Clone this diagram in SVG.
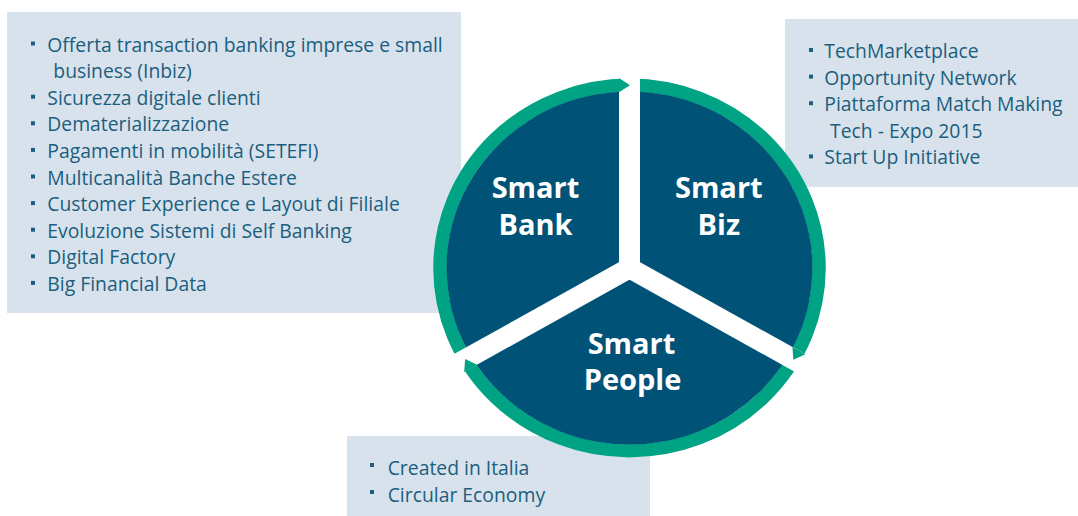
<svg xmlns="http://www.w3.org/2000/svg" width="1078" height="516" viewBox="0 0 1078 516">
<style>
.box{fill:#d8e2ec}
.t{font-family:"Open Sans","Liberation Sans",sans-serif;font-size:19.35px;fill:#1b5e7e}
.b{fill:#1b5e7e}
.lbl{font-family:"Open Sans","Liberation Sans",sans-serif;font-size:29px;font-weight:bold;fill:#ffffff;text-anchor:middle}
.ring{fill:none;stroke:#00a383;stroke-width:13.5}
.bar{stroke:#ffffff;stroke-width:21}
.tip{fill:#00a383}
</style>
<rect width="1078" height="516" fill="#ffffff"/>
<g id="box-bank">
<rect class="box" x="7" y="12" width="454" height="301"/>
<rect class="b" x="31" y="41.5" width="4" height="4"/>
<rect class="b" x="31" y="94.7" width="4" height="4"/>
<rect class="b" x="31" y="121.3" width="4" height="4"/>
<rect class="b" x="31" y="147.9" width="4" height="4"/>
<rect class="b" x="31" y="174.5" width="4" height="4"/>
<rect class="b" x="31" y="201.1" width="4" height="4"/>
<rect class="b" x="31" y="227.7" width="4" height="4"/>
<rect class="b" x="31" y="254.3" width="4" height="4"/>
<rect class="b" x="31" y="280.9" width="4" height="4"/>
<text class="t" x="47.3" y="51.5">Offerta transaction banking imprese e small</text>
<text class="t" x="53.3" y="78.1">business (Inbiz)</text>
<text class="t" x="47.3" y="104.7">Sicurezza digitale clienti</text>
<text class="t" x="47.3" y="131.3">Dematerializzazione</text>
<text class="t" x="47.3" y="157.9">Pagamenti in mobilità (SETEFI)</text>
<text class="t" x="47.3" y="184.5">Multicanalità Banche Estere</text>
<text class="t" x="47.3" y="211.1">Customer Experience e Layout di Filiale</text>
<text class="t" x="47.3" y="237.7">Evoluzione Sistemi di Self Banking</text>
<text class="t" x="47.3" y="264.3">Digital Factory</text>
<text class="t" x="47.3" y="290.9">Big Financial Data</text>
</g>
<g id="box-biz">
<rect class="box" x="785" y="19" width="293" height="168"/>
<rect class="b" x="809" y="48" width="4" height="4"/>
<rect class="b" x="809" y="74.6" width="4" height="4"/>
<rect class="b" x="809" y="101.2" width="4" height="4"/>
<rect class="b" x="809" y="154.4" width="4" height="4"/>
<text class="t" x="824.3" y="58">TechMarketplace</text>
<text class="t" x="824.3" y="84.6">Opportunity Network</text>
<text class="t" x="824.3" y="111.2">Piattaforma Match Making</text>
<text class="t" x="830" y="137.8">Tech - Expo 2015</text>
<text class="t" x="824.3" y="164.4">Start Up Initiative</text>
</g>
<g id="box-people">
<rect class="box" x="347" y="436" width="303" height="80"/>
<rect class="b" x="370" y="463" width="4" height="4"/>
<rect class="b" x="370" y="490" width="4" height="4"/>
<text class="t" x="387.7" y="474.5">Created in Italia</text>
<text class="t" x="387.7" y="501.5">Circular Economy</text>
</g>
<g id="wheel" transform="translate(629.5,268) scale(1,0.965)">
<circle class="ring" cx="0" cy="0" r="189.5"/>
<circle cx="0" cy="0" r="183" fill="#005377"/>
<g id="connectors">
<line class="bar" x1="0" y1="0" x2="0" y2="-206"/>
<line class="bar" x1="0" y1="0" x2="0" y2="-206" transform="rotate(120)"/>
<line class="bar" x1="0" y1="0" x2="0" y2="-206" transform="rotate(240)"/>
</g>
<polygon class="tip" points="-10.6,-197 -10.6,-182 0.5,-189.5"/>
<polygon class="tip" points="-10.6,-197 -10.6,-182 0.5,-189.5" transform="rotate(120)"/>
<polygon class="tip" points="-10.6,-197 -10.6,-182 0.5,-189.5" transform="rotate(240)"/>
</g>
<g id="smart-bank">
<text class="lbl" x="535.5" y="198">Smart</text>
<text class="lbl" x="535.5" y="235">Bank</text>
</g>
<g id="smart-biz">
<text class="lbl" x="718.8" y="198">Smart</text>
<text class="lbl" x="718.8" y="235">Biz</text>
</g>
<g id="smart-people">
<text class="lbl" x="631.5" y="353.5">Smart</text>
<text class="lbl" x="632.5" y="390">People</text>
</g>
</svg>
